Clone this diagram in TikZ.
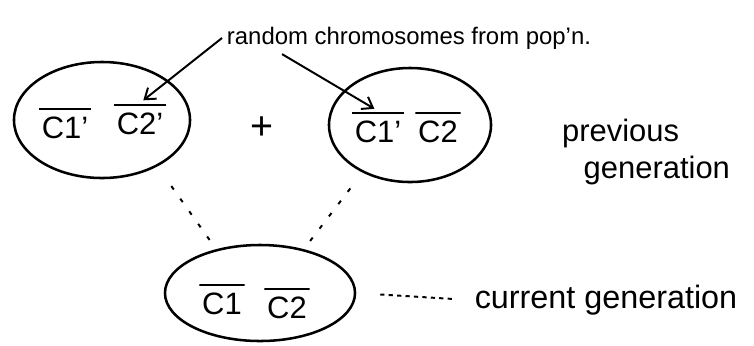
\documentclass[tikz,border=0pt]{standalone}
\usepackage{fontspec}
\setmainfont{Liberation Sans}
\usetikzlibrary{shapes.geometric, arrows.meta, positioning}

\begin{document}
\begin{tikzpicture}[
  x=0.025cm, y=-0.025cm,
  >={Straight Barb[length=7pt, width=10pt]},
  cell/.style={ellipse, draw, line width=1.8pt, inner sep=0pt},
  chrom/.style={rectangle, inner xsep=2pt, inner ysep=7pt, font=\fontsize{22}{24}\selectfont,
    path picture={\draw[line width=1.5pt] ([yshift=-1pt]path picture bounding box.north west) -- ([yshift=-1pt]path picture bounding box.north east);}},
  note/.style={font=\fontsize{17}{21}\selectfont, align=left},
  link/.style={line width=1.4pt, dash pattern=on 3pt off 8pt},
]
  \useasboundingbox (0,0) rectangle (754,345);

  \node[note] (pool) at (409,38) {random chromosomes from pop'n.};

  % previous generation
  \node[cell, minimum width=4.4cm, minimum height=2.9cm] (parentA) at (102,120) {};
  \node[chrom] (a1) at (65,128) {C1'};
  \node[chrom] (a2) at (140,124) {C2'};
  \node[font=\fontsize{28}{30}\selectfont] (plus) at (262,128) {+};
  \node[cell, minimum width=4.05cm, minimum height=2.85cm] (parentB) at (410,125) {};
  \node[chrom] (b1) at (378,132) {C1'};
  \node[chrom] (b2) at (438,132) {C2};
  \node[note, font=\fontsize{22}{27}\selectfont] (prevgen) at (646,152) {previous\\\hspace*{0.7em}generation};

  % current generation
  \node[cell, minimum width=4.75cm, minimum height=2.4cm] (child) at (260,293) {};
  \node[chrom] (c1) at (222,304) {C1};
  \node[chrom] (c2) at (287,308) {C2};
  \node[note, font=\fontsize{23}{25}\selectfont] (curgen) at (606,300) {current generation};

  \draw[->, line width=1.4pt, shorten >=3pt] (pool.west) -- (a2.north);
  \draw[->, line width=1.4pt, shorten >=3pt] ([xshift=1.5cm]pool.south west) -- (b1.north);

  \draw[link, shorten <=0.6cm, shorten >=0.2cm] (parentA.-40) -- (child.135);
  \draw[link, shorten <=0.5cm, shorten >=0.2cm] (parentB.-135) -- (child.45);
  \draw[line width=1.4pt, dashed, shorten <=0.6cm, shorten >=0.4cm] (child.east) -- (curgen.west);
\end{tikzpicture}
\end{document}
